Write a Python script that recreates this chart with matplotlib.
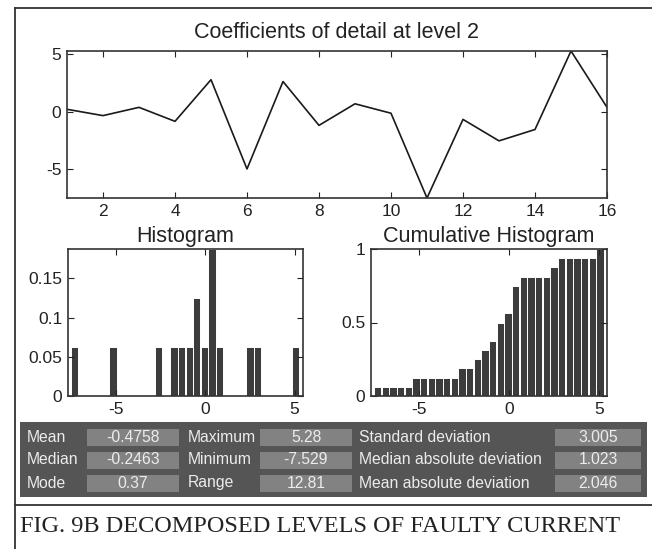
import numpy as np
import matplotlib
matplotlib.use("Agg")
import matplotlib.pyplot as plt
from matplotlib.patches import Rectangle
from matplotlib.lines import Line2D

# detail coefficients, level 2
coef = [0.20, -0.35, 0.37, -0.85, 2.78, -5.00, 2.62, -1.20,
        0.68, -0.1426, -7.529, -0.68, -2.55, -1.56, 5.28, 0.37]
n_bins = 30

stat_names_a = ["Mean", "Median", "Mode"]
stat_vals_a = ["-0.4758", "-0.2463", "0.37"]
stat_names_b = ["Maximum", "Minimum", "Range"]
stat_vals_b = ["5.28", "-7.529", "12.81"]
stat_names_c = ["Standard deviation", "Median absolute deviation", "Mean absolute deviation"]
stat_vals_c = ["3.005", "1.023", "2.046"]

caption = "FIG. 9B DECOMPOSED LEVELS OF FAULTY CURRENT"

W, H = 652, 549
plt.rcParams["font.family"] = ["Liberation Sans", "DejaVu Sans"]
plt.rcParams["axes.unicode_minus"] = False
fig = plt.figure(figsize=(W / 100, H / 100), dpi=100)


def ax_px(x0, y0, x1, y1):
    # pixel box (top-left origin) -> axes
    return fig.add_axes([x0 / W, 1 - y1 / H, (x1 - x0) / W, (y1 - y0) / H])


def fx(x):
    return x / W


def fy(y):
    return 1 - y / H


def style(ax):
    ax.tick_params(direction="in", top=True, right=True, length=4,
                   width=0.8, labelsize=12.5, colors="#222222", pad=4)
    for s in ax.spines.values():
        s.set_linewidth(1.2)
        s.set_color("#333333")


# top: coefficients
x = np.arange(1, len(coef) + 1)
ax = ax_px(67, 51, 607, 198)
ax.plot(x, coef, color="#1a1a1a", lw=1.2)
ax.set_xlim(1, 16)
ax.set_ylim(min(coef), max(coef))
ax.set_xticks(range(2, 17, 2))
ax.set_yticks([-5, 0, 5])
ax.set_title("Coefficients of detail at level 2", fontsize=15.5, color="#222222", pad=9)
style(ax)

counts, edges = np.histogram(coef, bins=n_bins)
centers = (edges[:-1] + edges[1:]) / 2
bw = edges[1] - edges[0]
freq = counts / len(coef)
cum = np.cumsum(counts) / len(coef)

bar_col = "#3c3c3c"

ax2 = ax_px(68, 249, 303, 396)
ax2.bar(centers, freq, width=bw * 0.95, color=bar_col, edgecolor="white", linewidth=0.7)
ax2.set_xlim(-7.7, 5.47)
ax2.set_ylim(0, freq.max())
ax2.set_xticks([-5, 0, 5])
ax2.set_yticks([0, 0.05, 0.1, 0.15])
ax2.set_yticklabels(["0", "0.05", "0.1", "0.15"])
ax2.set_title("Histogram", fontsize=15.5, color="#222222", pad=5)
style(ax2)

ax3 = ax_px(371, 249, 607, 396)
ax3.bar(centers, cum, width=bw * 0.95, color=bar_col, edgecolor="white", linewidth=0.7)
ax3.set_xlim(-7.69, 5.45)
ax3.set_ylim(0, 1)
ax3.set_xticks([-5, 0, 5])
ax3.set_yticks([0, 0.5, 1])
ax3.set_yticklabels(["0", "0.5", "1"])
ax3.set_title("Cumulative Histogram", fontsize=15.5, color="#222222", pad=5)
style(ax3)

# stats panel
fig.add_artist(Rectangle((fx(20), fy(497)), fx(647) - fx(20), fy(422) - fy(497),
                         transform=fig.transFigure, facecolor="#555555", edgecolor="none"))
rows_y = [437, 460, 483]
groups = [
    (stat_names_a, stat_vals_a, 27, (87, 179)),
    (stat_names_b, stat_vals_b, 188, (260, 352)),
    (stat_names_c, stat_vals_c, 359, (555, 641)),
]
for names, vals, lx, (b0, b1) in groups:
    for name, val, yc in zip(names, vals, rows_y):
        fig.add_artist(Rectangle((fx(b0), fy(yc + 8.5)), fx(b1) - fx(b0), fy(yc - 8.5) - fy(yc + 8.5),
                                 transform=fig.transFigure, facecolor="#828282", edgecolor="none"))
        fig.text(fx(lx), fy(yc), name, fontsize=11.3, color="#ececec", ha="left", va="center")
        fig.text(fx((b0 + b1) / 2), fy(yc), val, fontsize=11.3, color="#ececec",
                 ha="center", va="center")

# frame lines
for xs, ys in [((15, 652), (8, 8)), ((15, 15), (8, 549)), ((15, 652), (505, 505))]:
    fig.add_artist(Line2D([fx(xs[0]), fx(xs[1])], [fy(ys[0]), fy(ys[1])],
                          transform=fig.transFigure, color="#333333", lw=1.3))

fig.text(fx(20), fy(527), caption, fontsize=17.5, family=["Liberation Serif", "DejaVu Serif"],
         color="#222222", ha="left", va="center")

fig.savefig("out.png", dpi=100)
